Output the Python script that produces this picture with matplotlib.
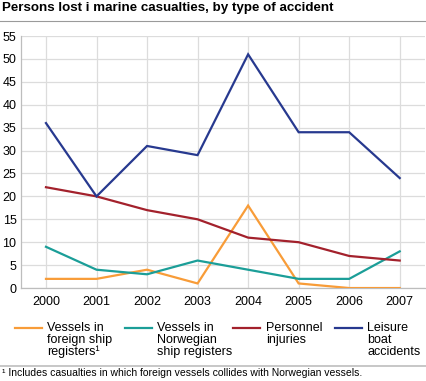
import matplotlib
matplotlib.use("Agg")
import matplotlib.pyplot as plt
from matplotlib.lines import Line2D

plt.rcParams['font.family'] = ['Liberation Sans', 'DejaVu Sans']

years = [2000, 2001, 2002, 2003, 2004, 2005, 2006, 2007]
foreign = [2, 2, 4, 1, 18, 1, 0, 0]
norwegian = [9, 4, 3, 6, 4, 2, 2, 8]
personnel = [22, 20, 17, 15, 11, 10, 7, 6]
leisure = [36, 20, 31, 29, 51, 34, 34, 24]

labels = ['Vessels in\nforeign ship\nregisters\u00b9',
          'Vessels in\nNorwegian\nship registers',
          'Personnel\ninjuries',
          'Leisure\nboat\naccidents']
colors = ['#f89c38', '#1b9e98', '#a3212c', '#27398f']
series = [foreign, norwegian, personnel, leisure]

fig = plt.figure(figsize=(4.26, 3.81), dpi=100)
ax = fig.add_axes([0.0486, 0.244, 0.949, 0.6615])

for vals, c in zip(series, colors):
    ax.plot(years, vals, color=c, lw=1.6, solid_joinstyle='miter', zorder=3)

ax.set_xlim(1999.5, 2007.5)
ax.set_ylim(0, 55)
ax.set_xticks(years)
ax.set_yticks(range(0, 56, 5))
ax.grid(True, color='#dcdcdc', lw=0.9, zorder=0)
ax.set_axisbelow(True)
for s in ['top', 'right']:
    ax.spines[s].set_visible(False)
for s in ['left', 'bottom']:
    ax.spines[s].set_color('#bdbdbd')
    ax.spines[s].set_linewidth(0.9)
ax.tick_params(length=0, labelsize=9, pad=6, colors='#000000')
ax.tick_params(axis='y', pad=3)

fig.text(0.005, 0.979, 'Persons lost i marine casualties, by type of accident',
         fontsize=9.6, fontweight='bold', va='center', ha='left')
fig.add_artist(Line2D([0, 1], [1 - 21 / 381] * 2, color='#9a9a9a', lw=0.8))

# legend drawn by hand so the swatch sits on the first text line
hx = [15, 125, 233, 335]
tx = [47, 157, 266, 367]
ly = 1 - 328 / 381
for lab, c, x0, x1 in zip(labels, colors, hx, tx):
    fig.add_artist(Line2D([x0 / 426, (x0 + 27) / 426], [ly, ly], color=c, lw=1.6))
    fig.text(x1 / 426, 1 - 322 / 381, lab, fontsize=9, va='top', ha='left',
             linespacing=1.0)

fig.add_artist(Line2D([0, 1], [1 - 366 / 381] * 2, color='#bdbdbd', lw=1.2))
fig.text(0.005, 1 - 373 / 381,
         '\u00b9 Includes casualties in which foreign vessels collides with Norwegian vessels.',
         fontsize=7.45, va='center', ha='left')

fig.savefig('out.png', dpi=100)
